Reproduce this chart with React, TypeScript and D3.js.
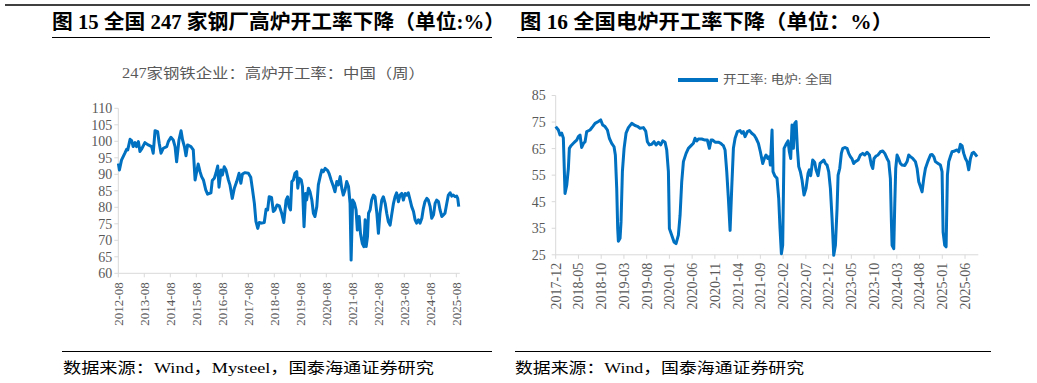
import React from 'react';
import * as d3 from 'd3';

const FONT = "'Liberation Serif', 'Times New Roman', 'Noto Sans CJK SC', serif";
const BLUE = '#0070C0';
const GRAY_TEXT = '#595959';
const AXIS = '#d9d9d9';

// Left chart: 247 steel mills blast furnace operating rate (weekly), t = year + month/12
const bfDates = [
  2012.67, 2012.71, 2012.79, 2012.92, 2012.99, 2013.03, 2013.12, 2013.18, 2013.24, 2013.31,
  2013.37, 2013.44, 2013.50, 2013.56, 2013.69, 2013.82, 2013.95, 2014.01, 2014.08, 2014.18,
  2014.24, 2014.31, 2014.40, 2014.53, 2014.59, 2014.69, 2014.78, 2014.85, 2014.91, 2015.00,
  2015.08, 2015.14, 2015.21, 2015.27, 2015.33, 2015.46, 2015.55, 2015.62, 2015.68, 2015.74,
  2015.81, 2015.87, 2015.94, 2016.03, 2016.10, 2016.23, 2016.28, 2016.36, 2016.42, 2016.49,
  2016.54, 2016.62, 2016.67, 2016.74, 2016.81, 2016.90, 2016.96, 2017.05, 2017.13, 2017.22,
  2017.31, 2017.38, 2017.44, 2017.54, 2017.67, 2017.76, 2017.82, 2017.90, 2017.96, 2018.03,
  2018.09, 2018.18, 2018.28, 2018.35, 2018.41, 2018.47, 2018.56, 2018.63, 2018.69, 2018.77,
  2018.86, 2018.95, 2019.03, 2019.12, 2019.18, 2019.23, 2019.29, 2019.34, 2019.40, 2019.46,
  2019.53, 2019.57, 2019.62, 2019.70, 2019.75, 2019.81, 2019.87, 2019.91, 2019.98, 2020.04,
  2020.11, 2020.17, 2020.23, 2020.30, 2020.36, 2020.43, 2020.49, 2020.55, 2020.62, 2020.72,
  2020.77, 2020.85, 2020.94, 2021.00, 2021.07, 2021.13, 2021.20, 2021.26, 2021.32, 2021.39,
  2021.45, 2021.52, 2021.58, 2021.62, 2021.68, 2021.75, 2021.81, 2021.86, 2021.93, 2021.98,
  2022.05, 2022.11, 2022.16, 2022.20, 2022.25, 2022.29, 2022.35, 2022.41, 2022.48, 2022.54,
  2022.61, 2022.67, 2022.73, 2022.80, 2022.86, 2022.93, 2022.99, 2023.05, 2023.12, 2023.18,
  2023.25, 2023.31, 2023.37, 2023.44, 2023.50, 2023.57, 2023.63, 2023.70, 2023.76, 2023.82,
  2023.89, 2023.95, 2024.02, 2024.08, 2024.14, 2024.21, 2024.27, 2024.34, 2024.40, 2024.46,
  2024.53, 2024.59, 2024.66, 2024.72, 2024.79, 2024.85, 2024.91, 2024.98, 2025.04, 2025.11,
  2025.17, 2025.23, 2025.30, 2025.36, 2025.43, 2025.49, 2025.55, 2025.62, 2025.68, 2025.72,
  2025.76,
];
const bfValues = [
  93.3, 91.3, 94.3, 96.4, 97.6, 97.4, 100.6, 100.2, 98.4, 99.6,
  98.4, 99.9, 96.9, 97.6, 99.6, 98.9, 98.4, 96.4, 103.2, 102.9,
  99.4, 96.4, 97.9, 98.4, 99.9, 101.2, 100.4, 98.4, 93.8, 100.4,
  103.2, 100.4, 98.4, 95.6, 98.9, 98.4, 97.4, 88.3, 90.8, 93.1,
  90.8, 89.3, 88.3, 85.3, 84.0, 84.4, 88.1, 88.8, 90.3, 92.5,
  86.1, 91.3, 89.8, 92.3, 91.3, 88.3, 86.8, 82.7, 85.8, 87.8,
  90.3, 87.3, 90.1, 90.5, 90.3, 89.1, 85.8, 81.2, 75.7, 73.6,
  75.4, 75.2, 75.4, 79.4, 79.2, 83.2, 83.0, 78.7, 79.2, 80.7,
  80.4, 78.2, 75.4, 82.2, 83.2, 80.2, 79.2, 87.8, 88.3, 90.3,
  90.8, 85.8, 88.8, 88.3, 86.3, 74.1, 84.2, 82.2, 85.8, 84.7,
  82.2, 78.2, 77.2, 80.2, 86.8, 89.3, 91.3, 90.8, 91.8, 91.1,
  90.3, 88.3, 86.3, 84.7, 87.8, 86.8, 89.3, 85.8, 83.7, 85.3,
  87.8, 86.3, 81.2, 64.0, 82.2, 81.2, 79.2, 73.1, 77.2, 72.1,
  69.1, 68.1, 76.2, 68.1, 71.1, 78.2, 79.2, 82.2, 83.7, 83.2,
  78.2, 72.1, 78.2, 82.2, 83.2, 81.2, 78.2, 75.7, 74.6, 77.7,
  81.2, 83.2, 84.4, 81.7, 83.7, 84.2, 82.2, 84.2, 83.7, 84.4,
  82.2, 80.2, 78.7, 76.2, 75.2, 76.2, 75.2, 76.7, 79.7, 81.7,
  82.7, 82.2, 80.2, 76.7, 77.7, 81.2, 82.2, 81.7, 79.2, 77.2,
  77.7, 78.2, 81.2, 83.7, 84.4, 83.4, 83.7, 83.2, 83.4, 82.7,
  80.2,
];
const bfXTicks = [
  '2012-08', '2013-08', '2014-08', '2015-08', '2016-08', '2017-08', '2018-08',
  '2019-08', '2020-08', '2021-08', '2022-08', '2023-08', '2024-08', '2025-08',
];
const bfYTicks = [60, 65, 70, 75, 80, 85, 90, 95, 100, 105, 110];

// Right chart: EAF operating rate, national (weekly), t = year + month/12
const eafDates = [
  2018.000, 2018.049, 2018.079, 2018.110, 2018.140, 2018.171, 2018.202, 2018.232, 2018.250, 2018.281,
  2018.324, 2018.354, 2018.385, 2018.415, 2018.446, 2018.476, 2018.507, 2018.538, 2018.568, 2018.629,
  2018.678, 2018.721, 2018.782, 2018.825, 2018.861, 2018.904, 2018.947, 2018.983, 2019.026, 2019.069,
  2019.093, 2019.118, 2019.136, 2019.148, 2019.179, 2019.197, 2019.222, 2019.253, 2019.289, 2019.332,
  2019.393, 2019.454, 2019.497, 2019.545, 2019.607, 2019.649, 2019.680, 2019.717, 2019.759, 2019.802,
  2019.839, 2019.882, 2019.924, 2019.961, 2020.004, 2020.034, 2020.065, 2020.083, 2020.126, 2020.169,
  2020.205, 2020.248, 2020.279, 2020.309, 2020.340, 2020.389, 2020.431, 2020.480, 2020.523, 2020.553,
  2020.584, 2020.614, 2020.676, 2020.737, 2020.779, 2020.816, 2020.847, 2020.877, 2020.920, 2020.981,
  2021.024, 2021.054, 2021.073, 2021.103, 2021.134, 2021.164, 2021.195, 2021.225, 2021.256, 2021.287,
  2021.329, 2021.378, 2021.409, 2021.439, 2021.470, 2021.513, 2021.549, 2021.592, 2021.635, 2021.671,
  2021.714, 2021.750, 2021.793, 2021.823, 2021.854, 2021.884, 2021.915, 2021.933, 2021.964, 2021.982,
  2022.013, 2022.055, 2022.086, 2022.110, 2022.135, 2022.159, 2022.184, 2022.220, 2022.257, 2022.281,
  2022.306, 2022.330, 2022.355, 2022.379, 2022.404, 2022.428, 2022.453, 2022.483, 2022.514, 2022.550,
  2022.587, 2022.624, 2022.648, 2022.672, 2022.709, 2022.746, 2022.770, 2022.807, 2022.843, 2022.880,
  2022.911, 2022.941, 2022.972, 2023.002, 2023.033, 2023.063, 2023.094, 2023.125, 2023.155, 2023.174,
  2023.204, 2023.234, 2023.259, 2023.296, 2023.338, 2023.369, 2023.399, 2023.430, 2023.460, 2023.491,
  2023.540, 2023.583, 2023.625, 2023.662, 2023.705, 2023.748, 2023.784, 2023.809, 2023.833, 2023.870,
  2023.906, 2023.949, 2023.992, 2024.029, 2024.071, 2024.102, 2024.132, 2024.151, 2024.163, 2024.194,
  2024.212, 2024.230, 2024.255, 2024.286, 2024.316, 2024.347, 2024.396, 2024.438, 2024.469, 2024.499,
  2024.542, 2024.591, 2024.622, 2024.652, 2024.683, 2024.713, 2024.744, 2024.774, 2024.817, 2024.866,
  2024.896, 2024.927, 2024.957, 2025.006, 2025.049, 2025.079, 2025.098, 2025.128, 2025.153, 2025.177,
  2025.202, 2025.232, 2025.262, 2025.311, 2025.354, 2025.385, 2025.415, 2025.446, 2025.476, 2025.507,
  2025.538, 2025.568, 2025.599, 2025.629, 2025.660, 2025.691, 2025.721,
];
const eafValues = [
  73.3, 72.0, 70.1, 70.8, 69.0, 48.1, 51.2, 57.5, 65.1, 66.1,
  67.0, 67.6, 68.2, 69.5, 70.1, 65.4, 66.9, 67.6, 71.4, 72.0,
  73.3, 74.5, 75.2, 75.8, 73.9, 73.3, 72.0, 68.9, 67.0, 65.7,
  62.6, 50.0, 34.9, 30.1, 31.2, 37.4, 56.3, 65.1, 70.8, 72.9,
  74.5, 73.7, 73.4, 72.7, 72.9, 71.6, 67.6, 66.4, 66.6, 67.6,
  66.4, 67.4, 66.4, 67.9, 67.4, 64.5, 56.3, 34.9, 32.4, 29.8,
  29.2, 32.4, 39.9, 52.5, 60.1, 63.2, 65.1, 66.1, 67.0, 68.9,
  67.9, 68.6, 68.6, 68.2, 68.2, 65.1, 68.2, 68.2, 67.4, 67.4,
  67.0, 66.4, 66.1, 64.5, 56.3, 46.2, 34.2, 50.0, 65.1, 68.9,
  71.4, 71.8, 70.8, 71.4, 69.5, 71.4, 71.8, 70.8, 70.1, 68.9,
  67.0, 63.8, 59.4, 61.3, 62.6, 61.3, 62.0, 58.8, 72.0, 56.3,
  54.8, 53.8, 46.2, 34.9, 25.4, 28.6, 65.1, 66.6, 67.9, 63.8,
  61.3, 73.9, 65.1, 74.5, 75.2, 65.1, 58.2, 56.3, 53.1, 47.5,
  50.0, 55.7, 57.0, 54.8, 60.7, 59.8, 57.0, 54.8, 59.4, 60.1,
  60.7, 59.4, 58.8, 56.3, 50.0, 38.9, 24.8, 28.6, 42.4, 55.0,
  57.5, 63.2, 65.1, 65.4, 65.1, 63.2, 62.0, 61.1, 59.4, 60.1,
  60.7, 62.6, 63.2, 62.6, 63.6, 62.6, 58.8, 57.5, 61.3, 62.2,
  62.6, 63.8, 64.1, 63.2, 61.3, 60.1, 53.8, 37.4, 28.6, 27.3,
  43.7, 57.5, 62.6, 61.1, 59.4, 58.8, 58.6, 60.1, 62.6, 62.0,
  61.3, 60.1, 57.5, 52.5, 50.6, 48.7, 53.8, 57.5, 60.1, 62.6,
  62.8, 62.0, 60.1, 59.4, 58.8, 56.3, 33.6, 28.6, 28.0, 55.0,
  60.1, 62.0, 63.8, 64.1, 64.5, 63.8, 66.6, 66.0, 63.2, 61.3,
  60.1, 57.0, 61.3, 63.2, 63.6, 62.8, 62.0,
];
const eafXTicks = [
  '2017-12', '2018-05', '2018-10', '2019-03', '2019-08', '2020-01', '2020-06',
  '2020-11', '2021-04', '2021-09', '2022-02', '2022-07', '2022-12', '2023-05',
  '2023-10', '2024-03', '2024-08', '2025-01', '2025-06',
];
const eafYTicks = [25, 35, 45, 55, 65, 75, 85];

const leftTitle = '图 15 全国 247 家钢厂高炉开工率下降（单位:%）';
const rightTitle = '图 16 全国电炉开工率下降（单位：%）';
const leftSubtitle = '247家钢铁企业：高炉开工率：中国（周）';
const rightLegend = '开工率: 电炉: 全国';
const leftSource = '数据来源：Wind，Mysteel，国泰海通证券研究';
const rightSource = '数据来源：Wind，国泰海通证券研究';

const labelToT = (s: string) => {
  const [y, m] = s.split('-').map(Number);
  return y + m / 12;
};

export default function App() {
  const xL = d3.scaleLinear().domain([2012.667, 2025.8]).range([118.3, 459.8]);
  const yL = d3.scaleLinear().domain([60, 110]).range([273.3, 108.3]);
  const xR = d3.scaleLinear().domain([2018.0, 2025.743]).range([555.7, 978.3]);
  const yR = d3.scaleLinear().domain([25, 85]).range([254.8, 95.5]);

  const lineL = d3
    .line<number>()
    .x((_, i) => xL(bfDates[i]))
    .y((d) => yL(d));
  const lineR = d3
    .line<number>()
    .x((_, i) => xR(eafDates[i]))
    .y((d) => yR(d));

  const [lx0, lx1] = xL.range();
  const [ly0, ly1] = yL.range();
  const [rx0, rx1] = xR.range();
  const [ry0, ry1] = yR.range();

  return (
    <svg
      width={1037}
      height={383}
      style={{ position: 'absolute', left: 0, top: 0, background: '#fff' }}
      fontFamily={FONT}
    >
      <rect x={0} y={0} width={1037} height={383} fill="#fff" />
      {/* header */}
      <line x1={5} x2={1030} y1={5} y2={5} stroke="#404040" strokeWidth={2} />
      <text x={52} y={29} fontSize={20} fontWeight="bold" fill="#000" textLength={453} lengthAdjust="spacingAndGlyphs">
        {leftTitle}
      </text>
      <text x={520} y={29} fontSize={20} fontWeight="bold" fill="#000" textLength={373} lengthAdjust="spacingAndGlyphs">
        {rightTitle}
      </text>
      <line x1={52} x2={492} y1={37.5} y2={37.5} stroke="#000" strokeWidth={1} />
      <line x1={517} x2={990} y1={37.5} y2={37.5} stroke="#000" strokeWidth={1} />

      {/* footer */}
      <line x1={62} x2={492} y1={351.5} y2={351.5} stroke="#000" strokeWidth={1} />
      <line x1={515} x2={991} y1={351.5} y2={351.5} stroke="#000" strokeWidth={1} />
      <text x={63} y={373} fontSize={15} fill="#000" textLength={371} lengthAdjust="spacingAndGlyphs">
        {leftSource}
      </text>
      <text x={515} y={373} fontSize={15} fill="#000" textLength={289} lengthAdjust="spacingAndGlyphs">
        {rightSource}
      </text>

      {/* left chart */}
      <text x={273.5} y={78} fontSize={14} fill={GRAY_TEXT} textAnchor="middle" textLength={303} lengthAdjust="spacingAndGlyphs">
        {leftSubtitle}
      </text>
      <line x1={lx0} x2={lx0} y1={ly1} y2={ly0} stroke={AXIS} strokeWidth={1} />
      <line x1={lx0} x2={lx1} y1={ly0} y2={ly0} stroke={AXIS} strokeWidth={1} />
      {bfYTicks.map((v) => (
        <g key={'ly' + v}>
          <line x1={lx0 - 4} x2={lx0} y1={yL(v)} y2={yL(v)} stroke={AXIS} />
          <text x={lx0 - 6} y={yL(v)} dy="0.35em" fontSize={14} fill={GRAY_TEXT} textAnchor="end">
            {v}
          </text>
        </g>
      ))}
      {bfXTicks.map((s) => {
        const x = xL(labelToT(s));
        return (
          <g key={'lx' + s}>
            <line x1={x} x2={x} y1={ly0} y2={ly0 + 4} stroke={AXIS} />
            <text
              transform={`translate(${x},${ly0 + 9}) rotate(-90)`}
              dy="0.35em"
              fontSize={13}
              fill={GRAY_TEXT}
              textAnchor="end"
            >
              {s}
            </text>
          </g>
        );
      })}
      <path d={lineL(bfValues) || ''} fill="none" stroke={BLUE} strokeWidth={3} strokeLinejoin="round" />

      {/* right chart */}
      <line x1={678} x2={718} y1={80} y2={80} stroke={BLUE} strokeWidth={4} />
      <text x={723} y={84} fontSize={12} fill={GRAY_TEXT} textLength={109} lengthAdjust="spacingAndGlyphs">
        {rightLegend}
      </text>
      <line x1={rx0} x2={rx0} y1={ry1} y2={ry0} stroke={AXIS} strokeWidth={1} />
      <line x1={rx0} x2={rx1} y1={ry0} y2={ry0} stroke={AXIS} strokeWidth={1} />
      {eafYTicks.map((v) => (
        <g key={'ry' + v}>
          <line x1={rx0 - 4} x2={rx0} y1={yR(v)} y2={yR(v)} stroke={AXIS} />
          <text x={rx0 - 10} y={yR(v)} dy="0.35em" fontSize={14} fill={GRAY_TEXT} textAnchor="end">
            {v}
          </text>
        </g>
      ))}
      {eafXTicks.map((s) => {
        const x = xR(labelToT(s));
        return (
          <g key={'rx' + s}>
            <line x1={x} x2={x} y1={ry0} y2={ry0 + 4} stroke={AXIS} />
            <text
              transform={`translate(${x},${ry0 + 8}) rotate(-90)`}
              dy="0.35em"
              fontSize={14}
              fill={GRAY_TEXT}
              textAnchor="end"
            >
              {s}
            </text>
          </g>
        );
      })}
      <path d={lineR(eafValues) || ''} fill="none" stroke={BLUE} strokeWidth={3} strokeLinejoin="round" />
    </svg>
  );
}
